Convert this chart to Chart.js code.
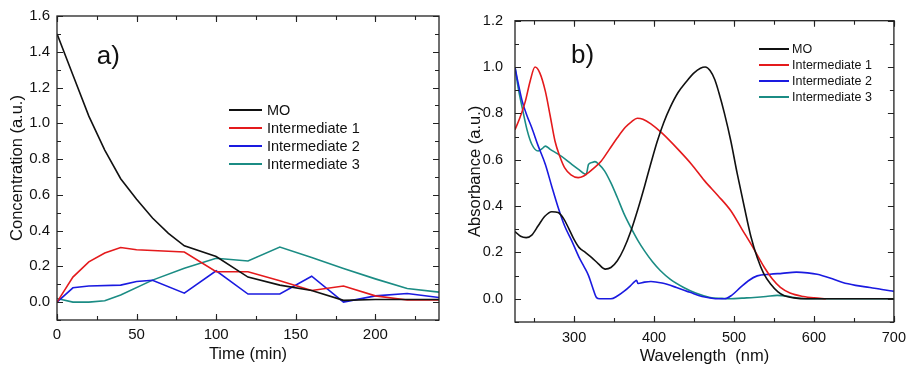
<!DOCTYPE html>
<html>
<head>
<meta charset="utf-8">
<script src="https://cdn.jsdelivr.net/npm/chart.js@4.4.0/dist/chart.umd.min.js"></script>
<style>
  body { margin: 0; background: #fff; }
  #wrap { position: relative; width: 913px; height: 366px; }
  #kinetics { position: absolute; left: 0; top: 0; }
  #spectra { position: absolute; left: 455px; top: 0; }
</style>
</head>
<body>
<div id="wrap">
  <canvas id="kinetics" width="450" height="366"></canvas>
  <canvas id="spectra" width="458" height="366"></canvas>
</div>
<script>
// ---- a) concentration vs time ----
var seriesNames = ['MO', 'Intermediate 1', 'Intermediate 2', 'Intermediate 3'];
var seriesColors = ['#111111', '#e41a1c', '#1a1ae0', '#1b8c84'];

var moTime = [0, 10, 20, 30, 40, 50, 60, 70, 80, 100, 120, 140, 160, 180, 200, 220, 240];
var moConc = [1.5, 1.27, 1.04, 0.85, 0.69, 0.575, 0.47, 0.385, 0.315, 0.255, 0.14, 0.095, 0.065, 0.01, 0.015, 0.015, 0.015];

var int1Time = [0, 10, 20, 30, 40, 50, 80, 100, 120, 140, 160, 180, 200, 220, 240];
var int1Conc = [0, 0.14, 0.225, 0.275, 0.305, 0.293, 0.28, 0.17, 0.17, 0.12, 0.065, 0.09, 0.035, 0.012, 0.012];

var int2Time = [0, 10, 20, 40, 50, 60, 80, 100, 120, 140, 160, 180, 200, 220, 240];
var int2Conc = [0, 0.08, 0.09, 0.095, 0.115, 0.122, 0.05, 0.175, 0.045, 0.045, 0.145, 0.0, 0.035, 0.048, 0.026];

var int3Time = [0, 10, 20, 30, 40, 60, 80, 100, 120, 140, 160, 180, 200, 220, 240];
var int3Conc = [0.02, 0, 0, 0.008, 0.04, 0.123, 0.19, 0.245, 0.23, 0.308, 0.25, 0.188, 0.13, 0.076, 0.056];

// ---- b) absorbance spectra ----
var moWl = [226, 233, 240, 247, 255, 263, 272, 280, 287, 293, 300, 306, 314, 322, 330, 339, 346, 354, 362, 371, 380, 388, 396, 404, 412, 420, 430, 441, 450, 458, 464, 470, 476, 481, 488, 496, 504, 513, 521, 529, 537, 546, 555, 563, 575, 590, 620, 660, 700];
var moAbs = [0.29, 0.27, 0.264, 0.275, 0.315, 0.355, 0.376, 0.372, 0.345, 0.305, 0.255, 0.222, 0.2, 0.178, 0.152, 0.128, 0.135, 0.164, 0.215, 0.293, 0.39, 0.485, 0.585, 0.68, 0.76, 0.825, 0.89, 0.94, 0.975, 0.995, 1.0, 0.985, 0.945, 0.89, 0.8, 0.681, 0.54, 0.394, 0.27, 0.178, 0.11, 0.063, 0.03, 0.013, 0.004, 0, 0, 0, 0];

var int1Wl = [226, 232, 239, 245, 251, 257, 264, 270, 276, 282, 288, 296, 305, 312, 318, 325, 334, 344, 354, 364, 372, 379, 386, 396, 410, 430, 447, 463, 480, 496, 510, 524, 538, 548, 558, 570, 587, 600, 615];
var int1Abs = [0.73, 0.78, 0.853, 0.94, 1.0, 0.975, 0.895, 0.79, 0.681, 0.615, 0.566, 0.535, 0.523, 0.53, 0.545, 0.565, 0.595, 0.645, 0.695, 0.74, 0.765, 0.779, 0.775, 0.755, 0.715, 0.645, 0.58, 0.51, 0.445, 0.38, 0.3, 0.22, 0.135, 0.085, 0.049, 0.025, 0.01, 0.004, 0];

var int2Wl = [226, 230, 235, 241, 247, 255, 264, 272, 280, 288, 297, 306, 313, 318, 323, 328, 332, 346, 354, 363, 370, 376, 378, 380, 388, 396, 410, 428, 445, 460, 470, 480, 488, 497, 508, 518, 529, 545, 560, 578, 592, 604, 620, 636, 652, 670, 685, 700];
var int2Abs = [1.0, 0.93, 0.853, 0.79, 0.738, 0.66, 0.58, 0.485, 0.394, 0.315, 0.25, 0.18, 0.135, 0.1, 0.05, 0.005, 0, 0, 0.012, 0.034, 0.055, 0.075, 0.08, 0.066, 0.072, 0.075, 0.068, 0.049, 0.028, 0.01, 0.004, 0, 0, 0.015, 0.049, 0.078, 0.099, 0.106, 0.11, 0.115, 0.112, 0.106, 0.09, 0.07, 0.058, 0.049, 0.04, 0.032];

var int3Wl = [226, 230, 235, 241, 247, 255, 260, 264, 270, 280, 290, 297, 305, 315, 318, 322, 326, 331, 338, 346, 354, 362, 371, 380, 388, 398, 408, 420, 437, 452, 470, 485, 496, 510, 525, 540, 554, 565, 578, 590, 620, 660, 700];
var int3Abs = [1.0, 0.91, 0.825, 0.73, 0.667, 0.638, 0.648, 0.659, 0.645, 0.624, 0.6, 0.58, 0.56, 0.537, 0.58, 0.588, 0.592, 0.58, 0.552, 0.5, 0.437, 0.37, 0.307, 0.25, 0.207, 0.16, 0.121, 0.085, 0.049, 0.025, 0.006, 0.002, 0, 0.003, 0.006, 0.01, 0.015, 0.012, 0.004, 0, 0, 0, 0];

var FONT = "'Liberation Sans', Arial, sans-serif";

function pts(xs, ys) {
  return xs.map(function (x, i) { return { x: x, y: ys[i] }; });
}

function makeSets(pairs, smooth) {
  return pairs.map(function (p, i) {
    return {
      label: seriesNames[i],
      data: pts(p[0], p[1]),
      borderColor: seriesColors[i],
      backgroundColor: seriesColors[i],
      borderWidth: 1.6,
      pointRadius: 0,
      fill: false,
      tension: 0,
      cubicInterpolationMode: smooth ? 'monotone' : 'default'
    };
  });
}

// frame box plus inward tick marks on all four sides
var frameTicks = {
  id: 'frameTicks',
  afterDatasetsDraw: function (chart, args, o) {
    var ctx = chart.ctx, a = chart.chartArea;
    var sx = chart.scales.x, sy = chart.scales.y;
    ctx.save();
    ctx.strokeStyle = '#222';
    ctx.lineWidth = 1.3;
    ctx.strokeRect(a.left, a.top, a.right - a.left, a.bottom - a.top);
    ctx.lineWidth = 1.1;
    function mark(scale, step, len) {
      var i0 = Math.ceil(scale.min / step - 1e-6), i1 = Math.floor(scale.max / step + 1e-6);
      for (var i = i0; i <= i1; i++) {
        var p = Math.round(scale.getPixelForValue(i * step)) + 0.5;
        ctx.beginPath();
        if (scale.axis === 'x') {
          ctx.moveTo(p, a.bottom); ctx.lineTo(p, a.bottom - len);
          ctx.moveTo(p, a.top); ctx.lineTo(p, a.top + len);
        } else {
          ctx.moveTo(a.left, p); ctx.lineTo(a.left + len, p);
          ctx.moveTo(a.right, p); ctx.lineTo(a.right - len, p);
        }
        ctx.stroke();
      }
    }
    mark(sx, o.xMinor, 4); mark(sx, o.xMajor, 6);
    mark(sy, o.yMinor, 4); mark(sy, o.yMajor, 6);
    ctx.restore();
  }
};

// legend entries and panel letter
var panelLegend = {
  id: 'panelLegend',
  afterDraw: function (chart, args, o) {
    var ctx = chart.ctx;
    ctx.save();
    ctx.font = o.size + 'px ' + FONT;
    ctx.textBaseline = 'middle';
    ctx.textAlign = 'left';
    chart.data.datasets.forEach(function (ds, i) {
      var y = o.y0 + i * o.dy;
      ctx.strokeStyle = ds.borderColor;
      ctx.lineWidth = 2;
      ctx.beginPath();
      ctx.moveTo(o.x0, y); ctx.lineTo(o.x1, y);
      ctx.stroke();
      ctx.fillStyle = '#111';
      ctx.fillText(ds.label, o.tx, y + 1);
    });
    ctx.font = '26px ' + FONT;
    ctx.textBaseline = 'alphabetic';
    ctx.fillText(o.tag, chart.scales.x.getPixelForValue(o.tagX), chart.scales.y.getPixelForValue(o.tagY));
    ctx.restore();
  }
};

Chart.register(frameTicks, panelLegend);

function axes(xo, yo) {
  return {
    x: {
      type: 'linear', min: xo.min, max: xo.max,
      grid: { display: false, drawTicks: false }, border: { display: false },
      ticks: { stepSize: xo.step, includeBounds: false, padding: xo.pad, maxRotation: 0, color: '#111', font: { family: FONT, size: xo.size } },
      title: { display: true, text: xo.title, color: '#111', font: { family: FONT, size: 16.5 }, padding: { top: 0, bottom: xo.tpad } },
      afterFit: function (s) { s.height = xo.h; }
    },
    y: {
      type: 'linear', min: yo.min, max: yo.max,
      grid: { display: false, drawTicks: false }, border: { display: false },
      ticks: { stepSize: 0.2, includeBounds: false, padding: yo.pad, color: '#111', font: { family: FONT, size: yo.size },
        callback: function (v) { return v.toFixed(1); } },
      title: { display: true, text: yo.title, color: '#111', font: { family: FONT, size: 16.5 }, padding: { top: yo.tpad, bottom: 0 } },
      afterFit: function (s) { s.width = yo.w; }
    }
  };
}

new Chart(document.getElementById('kinetics').getContext('2d'), {
  type: 'line',
  data: {
    datasets: makeSets([[moTime, moConc], [int1Time, int1Conc], [int2Time, int2Conc], [int3Time, int3Conc]], false)
  },
  options: {
    responsive: false, animation: false,
    layout: { padding: { top: 16, right: 11, left: 0, bottom: 0 } },
    scales: axes(
      { min: 0, max: 240, step: 50, pad: 6, size: 15, title: 'Time (min)', tpad: 2, h: 46 },
      { min: -0.1, max: 1.6, pad: 7, size: 15, title: 'Concentration (a.u.)', tpad: 8, w: 57 }
    ),
    plugins: {
      legend: { display: false }, tooltip: { enabled: false },
      frameTicks: { xMajor: 50, xMinor: 25, yMajor: 0.2, yMinor: 0.1 },
      panelLegend: { x0: 229, x1: 262, tx: 267, y0: 110, dy: 18, size: 14.5, tag: 'a)', tagX: 25, tagY: 1.33 }
    }
  }
});

new Chart(document.getElementById('spectra').getContext('2d'), {
  type: 'line',
  data: {
    datasets: makeSets([[moWl, moAbs], [int1Wl, int1Abs], [int2Wl, int2Abs], [int3Wl, int3Abs]], true)
  },
  options: {
    responsive: false, animation: false,
    layout: { padding: { top: 19, right: 15, left: 0, bottom: 0 } },
    scales: axes(
      { min: 226, max: 700, step: 100, pad: 7, size: 14.5, title: 'Wavelength  (nm)', tpad: 0, h: 44 },
      { min: -0.1, max: 1.2, pad: 12, size: 14.5, title: 'Absorbance (a.u.)', tpad: 11, w: 60 }
    ),
    plugins: {
      legend: { display: false }, tooltip: { enabled: false },
      frameTicks: { xMajor: 100, xMinor: 50, yMajor: 0.2, yMinor: 0.1 },
      panelLegend: { x0: 304, x1: 334, tx: 337, y0: 49, dy: 16, size: 12.5, tag: 'b)', tagX: 296, tagY: 1.017 }
    }
  }
});
</script>
</body>
</html>
